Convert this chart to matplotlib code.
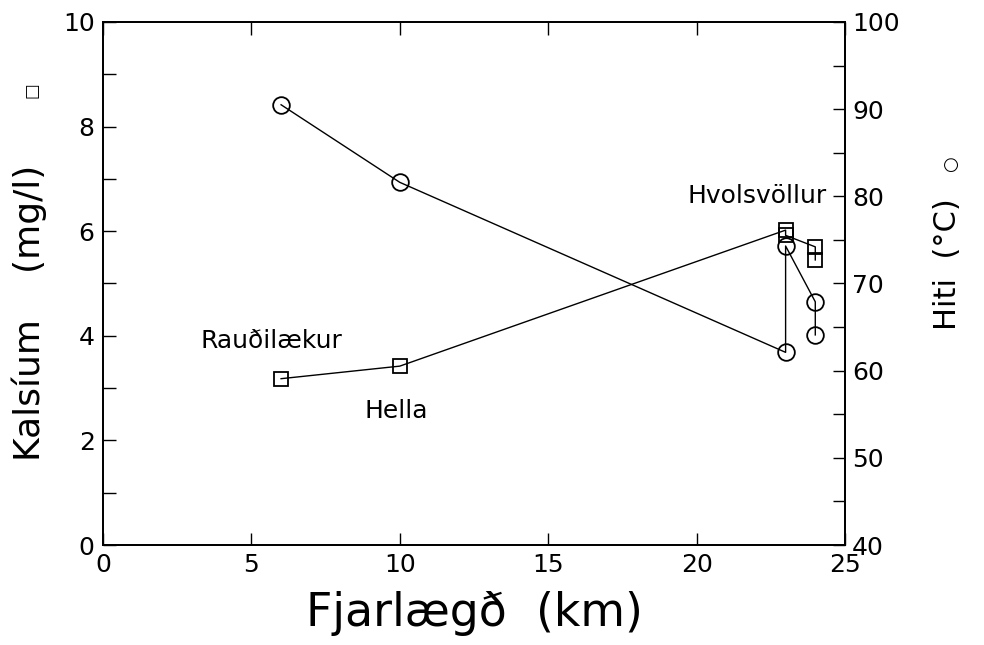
import matplotlib
matplotlib.use("Agg")
import matplotlib.pyplot as plt
from matplotlib.ticker import MultipleLocator

# Data
dist_ca = [6, 10, 23, 23, 24, 24]
calcium = [3.18, 3.42, 6.02, 5.92, 5.70, 5.45]
dist_temp = [6, 10, 23, 23, 24, 24]
temp = [90.5, 81.6, 62.1, 74.3, 67.9, 64.1]
place_names = ["Rauðilækur", "Hella", "Hvolsvöllur"]
place_pos = [(3.3, 3.9), (8.8, 2.57), (19.7, 6.68)]

plt.rcParams['font.family'] = ['DejaVu Sans']

fig = plt.figure(figsize=(9.84, 6.45), dpi=100)
ax = fig.add_axes([0.1047, 0.155, 0.754, 0.811])
ax2 = ax.twinx()

ax.plot(dist_ca, calcium, color='black', lw=1.0, marker='s', ms=10.5,
        mfc='none', mec='black', mew=1.3, zorder=3)
ax2.plot(dist_temp, temp, color='black', lw=1.0, marker='o', ms=12,
         mfc='none', mec='black', mew=1.3, zorder=3)

ax.set_xlim(0, 25)
ax.set_ylim(0, 10)
ax2.set_ylim(40, 100)

ax.xaxis.set_major_locator(MultipleLocator(5))
ax.yaxis.set_major_locator(MultipleLocator(2))
ax.yaxis.set_minor_locator(MultipleLocator(1))
ax2.yaxis.set_major_locator(MultipleLocator(10))
ax2.yaxis.set_minor_locator(MultipleLocator(5))

ax.tick_params(axis='x', which='major', direction='in', length=9, width=1.0,
               top=True, labelsize=18, pad=6)
ax.tick_params(axis='y', which='both', direction='in', length=9, width=1.0,
               labelsize=18, pad=6)
ax2.tick_params(axis='y', which='both', direction='in', length=9, width=1.0,
                labelsize=18, pad=5)

for a in (ax, ax2):
    for s in a.spines.values():
        s.set_linewidth(1.3)

for name, (x, y) in zip(place_names, place_pos):
    ax.text(x, y, name, fontsize=18, ha='left', va='center')

ax.set_xlabel("Fjarlægð  (km)", fontsize=33, labelpad=10)
fig.text(0.030, 0.515, "Kalsíum    (mg/l)", rotation=90, fontsize=26,
         ha='center', va='center')
fig.text(0.032, 0.86, "□", rotation=90, fontsize=12, ha='center', va='center')
fig.text(0.963, 0.59, "Hiti  (°C)", rotation=90, fontsize=22,
         ha='center', va='center')
fig.text(0.966, 0.745, "○", rotation=90, fontsize=13, ha='center', va='center')

fig.savefig("out.png", dpi=100)
